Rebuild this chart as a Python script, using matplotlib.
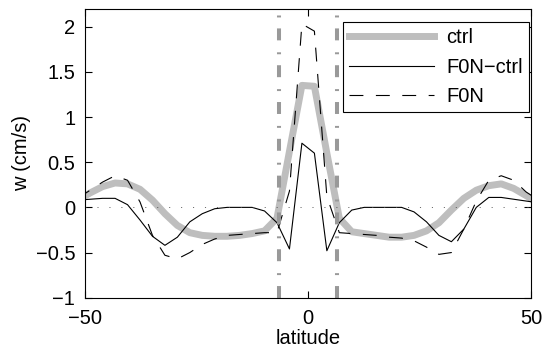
#!/usr/bin/env python3

import numpy
import matplotlib
matplotlib.use("Agg")
import matplotlib.pyplot as plt

plt.rcParams["font.family"] = ["Liberation Sans", "DejaVu Sans"]
plt.rcParams["lines.scale_dashes"] = False

# T42 gaussian latitudes (south to north)
lat = [-51.63, -48.84, -46.05, -43.26, -40.47, -37.67, -34.88, -32.09, -29.30,
       -26.51, -23.72, -20.93, -18.14, -15.35, -12.56, -9.77, -6.98, -4.19, -1.40,
       1.40, 4.19, 6.98, 9.77, 12.56, 15.35, 18.14, 20.93, 23.72, 26.51, 29.30,
       32.09, 34.88, 37.67, 40.47, 43.26, 46.05, 48.84, 51.63]

w_ctrl = [0.08, 0.16, 0.23, 0.27, 0.26, 0.20, 0.08, -0.07, -0.20,
          -0.28, -0.31, -0.32, -0.32, -0.31, -0.29, -0.26, -0.12, 0.62, 1.35,
          1.34, 0.60, -0.12, -0.27, -0.29, -0.31, -0.33, -0.33, -0.31, -0.26, -0.17,
          -0.03, 0.10, 0.19, 0.24, 0.26, 0.21, 0.13, 0.05]

w_diff = [0.08, 0.09, 0.10, 0.10, 0.03, -0.14, -0.32, -0.42, -0.33,
          -0.16, -0.07, -0.015, 0.0, 0.0, 0.0, -0.04, -0.17, -0.46, 0.71,
          0.60, -0.48, -0.17, -0.03, 0.0, 0.0, 0.0, 0.0, -0.05, -0.16, -0.31,
          -0.38, -0.24, 0.0, 0.11, 0.11, 0.09, 0.07, 0.05]

w_f0n = [0.10, 0.19, 0.28, 0.35, 0.30, 0.06, -0.31, -0.53, -0.57,
         -0.50, -0.41, -0.35, -0.31, -0.30, -0.29, -0.28, -0.28, 0.18, 2.03,
         1.95, 0.12, -0.28, -0.29, -0.30, -0.31, -0.33, -0.34, -0.37, -0.44, -0.52,
         -0.50, -0.24, 0.07, 0.30, 0.35, 0.30, 0.17, 0.08]

eq_band = [-6.5, 6.5]
fs = 14.5

fig = plt.figure(figsize=(5.43, 3.57), dpi=100)
ax = fig.add_axes([0.1565, 0.166, 0.822, 0.81])

ax.plot(lat, w_ctrl, color="#bebebe", linewidth=5.0, solid_joinstyle="round", label="ctrl")
ax.plot(lat, w_diff, color="black", linewidth=0.8, label="F0N\u2212ctrl")
ax.plot(lat, w_f0n, color="black", linewidth=0.8, linestyle=(0, (10, 9)), label="F0N")
ax.axhline(0, color="#555555", linewidth=0.6, linestyle=(0, (0.8, 7.8)))
for x in eq_band:
    ax.axvline(x, color="#999999", linewidth=2.9, linestyle=(0, (8.6, 7.9, 1.4, 8.6)))

ax.set_xlim(-50, 50)
ax.set_ylim(-1, 2.2)
ax.set_xticks([-50, 0, 50])
ax.set_yticks([-1, -0.5, 0, 0.5, 1, 1.5, 2])
ax.set_yticklabels(["\u22121", "\u22120.5", "0", "0.5", "1", "1.5", "2"])
ax.set_xticklabels(["\u221250", "0", "50"])
ax.tick_params(direction="in", top=True, right=True, labelsize=fs, length=5, width=0.8)
ax.tick_params(axis="x", pad=8)
ax.tick_params(axis="y", pad=7)
for s in ax.spines.values():
    s.set_linewidth(0.8)
ax.set_xlabel("latitude", fontsize=fs, labelpad=1)
ax.set_ylabel("w (cm/s)", fontsize=fs, labelpad=3)

leg = ax.legend(loc="upper right", bbox_to_anchor=(0.994, 0.952), borderaxespad=0,
                fontsize=fs, handlelength=4.2, handletextpad=0.6, borderpad=0.3,
                labelspacing=0.5, fancybox=False, framealpha=1, edgecolor="black")
leg.get_frame().set_linewidth(0.8)

plt.savefig("out.png", dpi=100)
plt.close()
